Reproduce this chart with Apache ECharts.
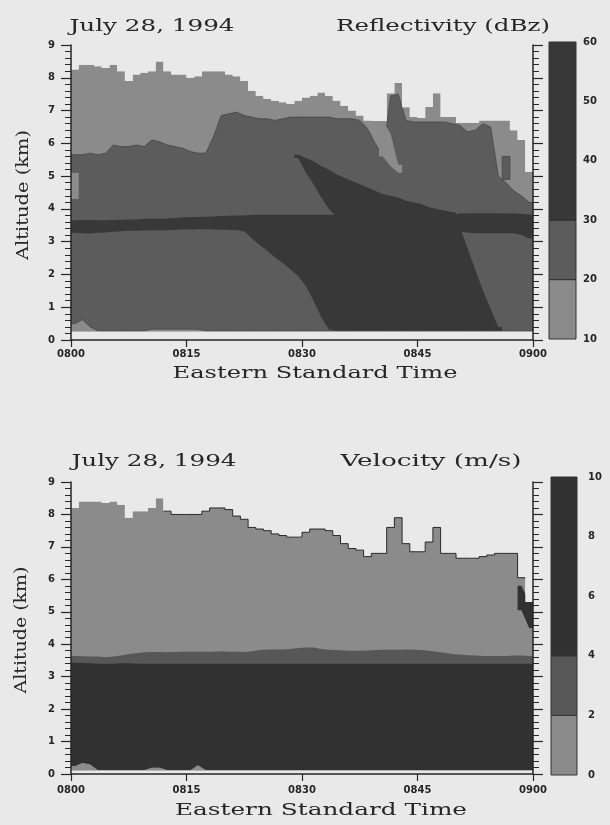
<!DOCTYPE html>
<html>
<head>
<meta charset="utf-8">
<script src="https://cdn.jsdelivr.net/npm/echarts@6/dist/echarts.min.js"></script>
<style>
html,body{margin:0;padding:0;background:#e9e9e9;}
#chart{width:610px;height:825px;}
</style>
</head>
<body>
<div id="chart"></div>
<script>
// ================= DATA =================
// x: minutes after 0800 EST, 60 one-minute columns; y: altitude (km)
const timeLabels = ['0800', '0815', '0830', '0845', '0900'];
const dbzLevels = [10, 20, 30, 60];      // colour-bar boundaries (dBz)
const velLevels = [0, 2, 4, 10];         // colour-bar boundaries (m/s)

// ---- Reflectivity panel ----
const dbzEchoBase = 0.25;
const dbzEchoTop = [8.25,8.4,8.4,8.35,8.3,8.4,8.2,7.9,8.1,8.15,
  8.2,8.5,8.2,8.1,8.1,8.0,8.05,8.2,8.2,8.2,
  8.1,8.05,7.9,7.6,7.45,7.35,7.3,7.25,7.2,7.3,
  7.4,7.45,7.55,7.45,7.3,7.15,7.0,6.85,6.7,6.68,
  6.68,7.53,7.84,7.1,6.8,6.77,7.11,7.53,6.8,6.8,
  6.63,6.63,6.63,6.7,6.7,6.7,6.7,6.4,6.1,5.13];
// top of the light 10-20 dBz floor strip (= base of the 20 dBz region)
const dbzFloor = [0.5,0.62,0.4,0.28,0.28,0.28,0.28,0.28,0.28,0.28,
  0.33,0.33,0.33,0.33,0.33,0.33,0.33,0.28,0.28,0.28,
  0.28,0.28,0.28,0.28,0.28,0.28,0.28,0.28,0.28,0.28,
  0.28,0.28,0.28,0.28,0.28,0.28,0.28,0.28,0.28,0.28,
  0.28,0.28,0.28,0.28,0.28,0.28,0.28,0.28,0.28,0.28,
  0.28,0.28,0.28,0.28,0.28,0.28,0.28,0.28,0.28,0.28];
// top of the 20-30 dBz region
const dbz20Top = [5.65,5.65,5.7,5.65,5.7,5.95,5.9,5.9,5.95,5.9,
  6.1,6.05,5.95,5.9,5.85,5.75,5.7,5.7,6.2,6.85,
  6.9,6.95,6.85,6.8,6.75,6.75,6.7,6.75,6.8,6.8,
  6.8,6.8,6.8,6.8,6.75,6.75,6.75,6.7,6.45,6.0,
  5.6,7.45,7.5,6.7,6.65,6.65,6.65,6.65,6.65,6.6,
  6.55,6.35,6.4,6.6,6.5,5.0,4.8,4.55,4.4,4.2];
const _ = null;
// light (10-20 dBz) pockets inside the 20 dBz region
const dbzGapLo = [4.3,_,_,_,_,_,_,_,_,_, _,_,_,_,_,_,_,_,_,_, _,_,_,_,_,_,_,_,_,_,
  _,_,_,_,_,_,_,_,_,_, 5.6,5.3,5.1,_,_,_,_,_,_,_, _,_,_,_,_,_,_,_,_,_];
const dbzGapHi = [5.1,_,_,_,_,_,_,_,_,_, _,_,_,_,_,_,_,_,_,_, _,_,_,_,_,_,_,_,_,_,
  _,_,_,_,_,_,_,_,_,_, 6.68,6.3,5.35,_,_,_,_,_,_,_, _,_,_,_,_,_,_,_,_,_];
// isolated 20-30 dBz cell in the light region
const dbzIsleLo = [_,_,_,_,_,_,_,_,_,_, _,_,_,_,_,_,_,_,_,_, _,_,_,_,_,_,_,_,_,_,
  _,_,_,_,_,_,_,_,_,_, _,_,_,_,_,_,_,_,_,_, _,_,_,_,_,_,4.9,_,_,_];
const dbzIsleHi = [_,_,_,_,_,_,_,_,_,_, _,_,_,_,_,_,_,_,_,_, _,_,_,_,_,_,_,_,_,_,
  _,_,_,_,_,_,_,_,_,_, _,_,_,_,_,_,_,_,_,_, _,_,_,_,_,_,5.6,_,_,_];
// bright band (>30 dBz)
const dbzBandLo = [3.27,3.26,3.25,3.27,3.28,3.3,3.32,3.33,3.33,3.34,
  3.35,3.35,3.35,3.36,3.37,3.37,3.38,3.38,3.37,3.36,
  3.36,3.35,3.35,3.35,3.35,3.35,3.35,3.35,3.35,3.35,
  3.35,3.35,3.35,3.35,3.35,3.35,3.35,3.35,3.35,3.35,
  3.35,3.35,3.35,3.35,3.35,3.35,3.35,3.35,3.35,3.35,
  3.3,3.28,3.26,3.26,3.26,3.26,3.26,3.26,3.2,3.1];
const dbzBandHi = [3.65,3.66,3.66,3.65,3.65,3.66,3.67,3.68,3.68,3.7,
  3.7,3.7,3.71,3.72,3.74,3.75,3.75,3.76,3.77,3.78,
  3.79,3.8,3.8,3.82,3.82,3.82,3.82,3.82,3.82,3.82,
  3.82,3.82,3.82,3.82,3.82,3.82,3.82,3.82,3.82,3.82,
  3.82,3.82,3.82,3.82,3.82,3.82,3.82,3.82,3.82,3.82,
  3.86,3.87,3.87,3.87,3.87,3.87,3.86,3.86,3.85,3.83];
// >30 dBz core above the bright band
const dbzCoreUpLo = [_,_,_,_,_,_,_,_,_,_, _,_,_,_,_,_,_,_,_,_, _,_,_,_,_,_,_,_,_,5.55,
  5.1,4.75,4.35,4.0,3.75,3.7,3.7,3.7,3.7,3.7,
  3.7,3.7,3.7,3.7,3.7,3.7,3.7,3.7,3.7,3.7, _,_,_,_,_,_,_,_,_,_];
const dbzCoreUpHi = [_,_,_,_,_,_,_,_,_,_, _,_,_,_,_,_,_,_,_,_, _,_,_,_,_,_,_,_,_,5.65,
  5.55,5.45,5.3,5.2,5.05,4.95,4.85,4.75,4.65,4.55,
  4.45,4.4,4.35,4.25,4.2,4.15,4.05,4.0,3.95,3.9, _,_,_,_,_,_,_,_,_,_];
// >30 dBz core below the bright band
const dbzCoreLowLo = [_,_,_,_,_,_,_,_,_,_, _,_,_,_,_,_,_,_,_,_, _,_,3.32,3.1,2.9,2.72,2.52,2.35,2.15,1.95,
  1.65,1.2,0.7,0.32,0.28,0.28,0.28,0.28,0.28,0.28,
  0.28,0.28,0.28,0.28,0.28,0.28,0.28,0.28,0.28,0.28,
  0.28,0.28,0.28,0.28,0.28,0.28,_,_,_,_];
const dbzCoreLowHi = [_,_,_,_,_,_,_,_,_,_, _,_,_,_,_,_,_,_,_,_, _,_,3.45,3.45,3.45,3.45,3.45,3.45,3.45,3.45,
  3.45,3.45,3.45,3.45,3.45,3.45,3.45,3.45,3.45,3.45,
  3.45,3.45,3.45,3.45,3.45,3.45,3.45,3.45,3.45,3.45,
  3.45,2.8,2.15,1.5,0.95,0.4,_,_,_,_];

// ---- Velocity panel ----
const velBase = 0.1;
const velTop = [8.2,8.4,8.4,8.4,8.35,8.4,8.3,7.9,8.1,8.1,
  8.2,8.5,8.1,8.0,8.0,8.0,8.0,8.1,8.2,8.2,
  8.15,7.95,7.85,7.6,7.55,7.5,7.4,7.35,7.3,7.3,
  7.45,7.55,7.55,7.5,7.35,7.1,6.95,6.9,6.7,6.8,
  6.8,7.6,7.9,7.1,6.85,6.85,7.15,7.6,6.8,6.8,
  6.65,6.65,6.65,6.7,6.75,6.8,6.8,6.8,6.05,5.3];
// top of the light (0-2 m/s) floor patches
const velFloor = [0.25,0.35,0.3,0.12,0.12,0.12,0.12,0.12,0.12,0.12,
  0.2,0.2,0.12,0.12,0.12,0.12,0.28,0.12,0.12,0.12,
  0.12,0.12,0.12,0.12,0.12,0.12,0.12,0.12,0.12,0.12,
  0.12,0.12,0.12,0.12,0.12,0.12,0.12,0.12,0.12,0.12,
  0.12,0.12,0.12,0.12,0.12,0.12,0.12,0.12,0.12,0.12,
  0.12,0.12,0.12,0.12,0.12,0.12,0.12,0.12,0.12,0.12];
// top of the 2-4 m/s layer
const velMidHi = [3.64,3.63,3.62,3.62,3.6,3.62,3.65,3.7,3.72,3.75,
  3.76,3.76,3.75,3.76,3.77,3.77,3.77,3.77,3.77,3.78,
  3.77,3.77,3.76,3.78,3.82,3.84,3.84,3.84,3.85,3.88,
  3.9,3.9,3.85,3.83,3.82,3.81,3.8,3.8,3.81,3.82,
  3.83,3.83,3.83,3.84,3.83,3.82,3.8,3.77,3.74,3.7,
  3.68,3.66,3.65,3.64,3.64,3.64,3.64,3.65,3.65,3.64];
// top of the >4 m/s layer
const velMidLo = [3.43,3.42,3.41,3.4,3.4,3.4,3.41,3.41,3.4,3.4,
  3.4,3.4,3.4,3.4,3.4,3.4,3.4,3.4,3.4,3.4,
  3.4,3.4,3.4,3.4,3.4,3.4,3.4,3.4,3.4,3.4,
  3.4,3.4,3.4,3.4,3.4,3.4,3.4,3.4,3.4,3.4,
  3.4,3.4,3.4,3.4,3.4,3.4,3.4,3.4,3.4,3.4,
  3.4,3.4,3.4,3.4,3.4,3.4,3.4,3.4,3.4,3.4];
// >4 m/s patch at the trailing edge
const velIsleLo = [_,_,_,_,_,_,_,_,_,_, _,_,_,_,_,_,_,_,_,_, _,_,_,_,_,_,_,_,_,_,
  _,_,_,_,_,_,_,_,_,_, _,_,_,_,_,_,_,_,_,_, _,_,_,_,_,_,_,_,5.05,4.5];
const velIsleHi = [_,_,_,_,_,_,_,_,_,_, _,_,_,_,_,_,_,_,_,_, _,_,_,_,_,_,_,_,_,_,
  _,_,_,_,_,_,_,_,_,_, _,_,_,_,_,_,_,_,_,_, _,_,_,_,_,_,_,_,5.8,5.3];

// ================= STYLE =================
const bg = '#e9e9e9';
const ink = '#262626';
const dbzColors = ['#8b8b8b', '#5c5c5c', '#383838'];
const velColors = ['#8b8b8b', '#575757', '#313131'];
const N = dbzEchoTop.length;
const X_MAX = 60, Y_MAX = 9;

// ================= HELPERS =================
function val(a, i) { return (typeof a === 'number') ? a : a[i]; }
function bandShapes(api, lo, hi, fill, stroke) {
  const out = [];
  let i = 0;
  while (i < N) {
    if (val(lo, i) == null || val(hi, i) == null) { i++; continue; }
    let j = i;
    while (j + 1 < N && val(lo, j + 1) != null && val(hi, j + 1) != null) j++;
    const top = [api.coord([i, val(hi, i)])], bot = [api.coord([i, val(lo, i)])];
    for (let k = i; k <= j; k++) {
      top.push(api.coord([k + 0.5, val(hi, k)]));
      bot.push(api.coord([k + 0.5, val(lo, k)]));
    }
    top.push(api.coord([j + 1, val(hi, j)]));
    bot.push(api.coord([j + 1, val(lo, j)]));
    out.push({ type: 'polygon', shape: { points: top.concat(bot.reverse()) },
      style: { fill: fill, stroke: stroke || null, lineWidth: stroke ? 0.8 : 0 } });
    i = j + 1;
  }
  return out;
}
function stepPoints(api, arr, from, to) {
  const p = [];
  for (let k = from; k < to; k++) {
    p.push(api.coord([k, arr[k]]));
    p.push(api.coord([k + 1, arr[k]]));
  }
  return p;
}
function stepFill(api, top, base, fill) {
  const p = stepPoints(api, top, 0, N);
  p.push(api.coord([X_MAX, base]), api.coord([0, base]));
  return { type: 'polygon', shape: { points: p }, style: { fill: fill } };
}
function maskAbove(api, top) {
  const p = stepPoints(api, top, 0, N);
  p.push(api.coord([X_MAX + 1, Y_MAX + 1]), api.coord([-1, Y_MAX + 1]));
  p.unshift(api.coord([-1, top[0]]));
  return { type: 'polygon', shape: { points: p }, style: { fill: bg } };
}
function maskBelow(api, base) {
  const p = [api.coord([-1, -1]), api.coord([X_MAX + 1, -1]), api.coord([X_MAX + 1, base]), api.coord([-1, base])];
  return { type: 'polygon', shape: { points: p }, style: { fill: bg } };
}

function renderDbz(params, api) {
  const C = dbzColors, k = [];
  k.push(stepFill(api, dbzEchoTop, dbzEchoBase, C[0]));
  k.push(...bandShapes(api, dbzFloor, dbz20Top, C[1], '#454545'));
  k.push(...bandShapes(api, dbzGapLo, dbzGapHi, C[0]));
  k.push(...bandShapes(api, dbzIsleLo, dbzIsleHi, C[1], '#454545'));
  k.push(...bandShapes(api, dbzCoreLowLo, dbzCoreLowHi, C[2]));
  k.push(...bandShapes(api, dbzBandLo, dbzBandHi, C[2]));
  k.push(...bandShapes(api, dbzCoreUpLo, dbzCoreUpHi, C[2]));
  k.push(maskAbove(api, dbzEchoTop));
  k.push(maskBelow(api, dbzEchoBase));
  return { type: 'group', children: k };
}
function renderVel(params, api) {
  const C = velColors, k = [];
  k.push(stepFill(api, velTop, velBase, C[0]));
  k.push(...bandShapes(api, velFloor, velMidHi, C[1]));
  k.push(...bandShapes(api, velFloor, velMidLo, C[2]));
  k.push(...bandShapes(api, velIsleLo, velIsleHi, C[2]));
  k.push(maskAbove(api, velTop));
  k.push({ type: 'polyline', shape: { points: stepPoints(api, velTop, 12, N - 1) },
    style: { stroke: ink, lineWidth: 1, fill: null } });
  k.push(maskBelow(api, velBase));
  return { type: 'group', children: k };
}
function colorBarSeries(xi, yi, levels, colors) {
  return {
    type: 'custom', xAxisIndex: xi, yAxisIndex: yi, silent: true,
    data: levels.slice(0, -1).map((v, k) => [v, levels[k + 1]]),
    encode: { y: [0, 1] },
    renderItem: function (params, api) {
      const p0 = api.coord([0, api.value(1)]), p1 = api.coord([1, api.value(0)]);
      return { type: 'rect', shape: { x: p0[0], y: p0[1], width: p1[0] - p0[0], height: p1[1] - p0[1] },
        style: { fill: colors[params.dataIndex], stroke: '#333', lineWidth: 1 } };
    }
  };
}

// ================= AXES =================
const tickFont = { fontFamily: 'DejaVu Sans', fontWeight: 'bold', fontSize: 10, color: ink };
function mainX(g, margin) {
  return { gridIndex: g, type: 'value', min: 0, max: X_MAX, interval: 15, z: 5,
    axisLine: { onZero: false, lineStyle: { color: ink, width: 1.5 } },
    axisTick: { length: 7, lineStyle: { color: ink, width: 1.2 } },
    axisLabel: Object.assign({ margin: margin, formatter: v => timeLabels[Math.round(v / 15)] }, tickFont),
    splitLine: { show: false } };
}
function mainY(g, pos, labels) {
  return { gridIndex: g, type: 'value', min: 0, max: Y_MAX, interval: 1, position: pos, z: 5,
    axisLine: { show: true, onZero: false, lineStyle: { color: ink, width: 1.5 } },
    axisTick: { length: 10, lineStyle: { color: ink, width: 1.2 } },
    minorTick: { show: true, splitNumber: 5, length: 6, lineStyle: { color: ink, width: 1 } },
    axisLabel: Object.assign({ show: labels, margin: 16 }, tickFont),
    splitLine: { show: false }, minorSplitLine: { show: false } };
}
function cbX(g) { return { gridIndex: g, type: 'value', min: 0, max: 1, show: false }; }
function cbY(g, levels, interval, margin) {
  return { gridIndex: g, type: 'value', min: levels[0], max: levels[levels.length - 1], interval: interval,
    position: 'right', axisLine: { show: false }, axisTick: { show: false },
    axisLabel: Object.assign({ margin: margin }, tickFont), splitLine: { show: false } };
}

// ================= TEXT =================
const mctx = document.createElement('canvas').getContext('2d');
function fitText(text, font, cx, cy, width, vertical) {
  mctx.font = font;
  const w = mctx.measureText(text).width;
  return { type: 'text', x: cx, y: cy, rotation: vertical ? Math.PI / 2 : 0,
    scaleX: width / w, scaleY: 1, z: 100, silent: true,
    style: { text: text, font: font, fill: ink, textAlign: 'center', textVerticalAlign: 'middle',
      align: 'center', verticalAlign: 'middle' } };
}
const titleFont = '16px "DejaVu Serif"';
const nameFont = '17px "DejaVu Serif"';

const chart = echarts.init(document.getElementById('chart'), null, { renderer: 'canvas' });
chart.setOption({
  backgroundColor: bg,
  animation: false,
  grid: [
    { left: 71, top: 45, width: 462, height: 295 },
    { left: 71, top: 482, width: 462, height: 292 },
    { left: 549, top: 42, width: 27, height: 297 },
    { left: 551, top: 477, width: 26, height: 298 }
  ],
  xAxis: [mainX(0, 9), mainX(1, 11), cbX(2), cbX(3)],
  yAxis: [mainY(0, 'left', true), mainY(0, 'right', false),
          mainY(1, 'left', true), mainY(1, 'right', false),
          cbY(2, dbzLevels, 10, 7), cbY(3, velLevels, 2, 11)],
  series: [
    { type: 'custom', xAxisIndex: 0, yAxisIndex: 0, silent: true, clip: true,
      data: [[0, 0]], renderItem: renderDbz },
    { type: 'custom', xAxisIndex: 1, yAxisIndex: 2, silent: true, clip: true,
      data: [[0, 0]], renderItem: renderVel },
    colorBarSeries(2, 4, dbzLevels, dbzColors),
    colorBarSeries(3, 5, velLevels, velColors)
  ],
  graphic: [
    fitText('July 28, 1994', titleFont, 152, 27, 165),
    fitText('Reflectivity (dBz)', titleFont, 443, 27, 214),
    fitText('Eastern Standard Time', nameFont, 315, 374, 285),
    fitText('Altitude (km)', nameFont, 24, 195, 130, true),
    fitText('July 28, 1994', titleFont, 154, 462, 165),
    fitText('Velocity (m/s)', titleFont, 431, 462, 181),
    fitText('Eastern Standard Time', nameFont, 321, 811, 292),
    fitText('Altitude (km)', nameFont, 22, 630, 127, true)
  ]
});
</script>
</body>
</html>
